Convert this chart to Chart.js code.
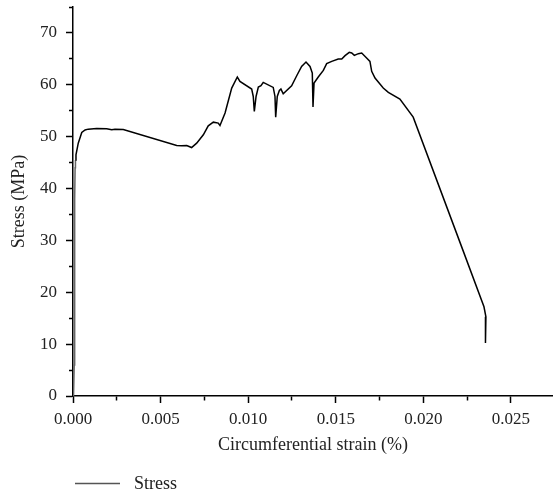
<!DOCTYPE html>
<html>
<head>
<meta charset="utf-8">
<script src="https://cdn.jsdelivr.net/npm/chart.js@4.4.0/dist/chart.umd.min.js"></script>
<style>
html,body{margin:0;padding:0;background:#fff;}
#wrap{width:553px;height:498px;}
</style>
</head>
<body>
<div id="wrap"><canvas id="grafica"></canvas></div>
<script>

// circumferential strain (%) and stress (MPa)
const strain = [
0.00003, 0.00007, 0.00008, 0.0001, 0.00009, 0.00011, 0.00012, 0.00014,
0.00017, 0.0003, 0.0005, 0.00069, 0.00087, 0.00135, 0.00192, 0.00221, 0.0024, 0.00287,
0.00592, 0.0062, 0.00649, 0.00677, 0.00706, 0.00744, 0.00772, 0.00801, 0.00829, 0.00839,
0.00868, 0.00906, 0.00938, 0.00953, 0.0102, 0.01029, 0.01035, 0.01045, 0.01058, 0.01073,
0.01086, 0.01143, 0.01153, 0.01157, 0.01166, 0.01178, 0.01187, 0.012, 0.01248, 0.01277,
0.01305, 0.0133, 0.01353, 0.01366, 0.0137, 0.01376, 0.014, 0.01429, 0.01448, 0.01477,
0.01514, 0.01534, 0.01553, 0.01577, 0.01591, 0.01606, 0.01629, 0.01648, 0.01676, 0.01695,
0.01705, 0.01724, 0.01771, 0.018, 0.01866, 0.01942, 0.02224, 0.02346, 0.02357, 0.02357, 0.02352
];

const stress = [
0, 6, 14, 22, 30, 38, 44, 45.5,
46.5, 48.75, 50.8, 51.3, 51.45, 51.58, 51.52, 51.32, 51.45, 51.38,
48.3, 48.23, 48.29, 47.9, 48.75, 50.36, 52.1, 52.8, 52.61, 52.15,
54.55, 59.37, 61.5, 60.65, 59.18, 57.75, 54.86, 57.75, 59.57, 59.82,
60.46, 59.5, 57.75, 53.77, 57.75, 58.9, 59.18, 58.28, 59.82, 61.75,
63.55, 64.4, 63.55, 62.27, 55.71, 60.34, 61.5, 62.78, 64.07, 64.52,
64.97, 64.97, 65.62, 66.26, 66.13, 65.68, 66.0, 66.13, 65.17, 64.52,
62.59, 61.3, 59.37, 58.53, 57.25, 53.77, 28.27, 17.2, 15.27, 12.37, 10.24
];

// first points form the steep elastic rise, drawn grey in the original
const tramoElastico = 7;

const serieNombre = "Stress";
const ejeX = "Circumferential strain (%)";
const ejeY = "Stress (MPa)";

const puntos = strain.map((s,i)=>({x:s,y:stress[i]}));

const fuente = '"Liberation Serif", "Times New Roman", serif';

// legend drawn under the plot, left aligned with the y axis
const leyenda = {
id:"leyenda",
afterDraw(chart){
const c = chart.ctx;
const ds = chart.data.datasets[0];
c.save();
c.strokeStyle = "#555";
c.lineWidth = 1.5;
c.beginPath();
c.moveTo(75,483.5);
c.lineTo(120,483.5);
c.stroke();
c.fillStyle = "#222";
c.font = "18px " + fuente;
c.textBaseline = "alphabetic";
c.fillText(ds.label,134,489);
c.restore();
}
};

new Chart(document.getElementById("grafica"),{
type:"scatter",
data:{
datasets:[{
label:serieNombre,
data:puntos,
showLine:true,
borderColor:"#000",
borderWidth:1.5,
pointRadius:0,
tension:0,
segment:{
borderColor:ctx=> ctx.p1DataIndex <= tramoElastico ? "#666" : "#000"
}
}]
},
options:{
responsive:true,
maintainAspectRatio:false,
animation:false,
layout:{padding:{top:7,right:0,bottom:42,left:0}},
plugins:{
legend:{display:false},
tooltip:{enabled:false}
},
scales:{
x:{
type:"linear",
min:0,
max:0.0274,
afterFit:s=>{ s.height = 60; },
ticks:{
stepSize:0.0025,
includeBounds:false,
maxRotation:0,
autoSkip:false,
padding:6,
color:"#222",
font:{family:fuente,size:17},
callback:v=>{
const r = v/0.005;
return Math.abs(r-Math.round(r))<1e-6 ? v.toFixed(3) : "";
}
},
grid:{
drawOnChartArea:false,
drawTicks:true,
tickLength:7,
tickColor:"#000",
tickWidth:1.5,
tickBorderDash:ctx=>{
const r = ctx.tick.value/0.005;
return Math.abs(r-Math.round(r))<1e-6 ? [] : [4,10];
}
},
border:{color:"#000",width:1.5},
title:{
display:true,
text:ejeX,
color:"#222",
font:{family:fuente,size:18},
padding:{top:0,bottom:0}
}
},
y:{
type:"linear",
min:0,
max:75,
afterFit:s=>{ s.width = 73; s.paddingTop = 0; },
ticks:{
stepSize:5,
autoSkip:false,
padding:9,
color:"#222",
font:{family:fuente,size:17},
callback:v=> v%10===0 ? String(v) : ""
},
grid:{
drawOnChartArea:false,
drawTicks:true,
tickLength:7,
tickColor:"#000",
tickWidth:1.5,
tickBorderDash:ctx=> ctx.tick.value%10===0 ? [] : [0,3,4,10]
},
border:{color:"#000",width:1.5},
title:{
display:true,
text:ejeY,
color:"#222",
font:{family:fuente,size:18},
padding:{top:8,bottom:0}
}
}
}
},
plugins:[leyenda]
});

</script>
</body>
</html>
